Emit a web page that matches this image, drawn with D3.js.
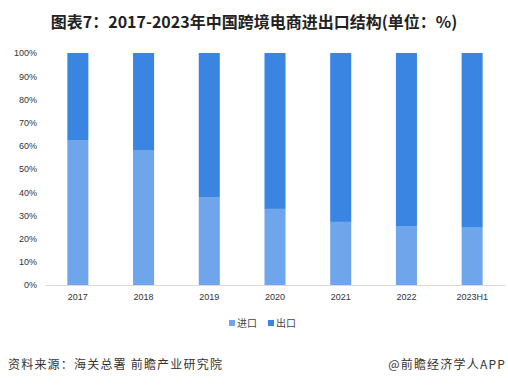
<!DOCTYPE html>
<html>
<head>
<meta charset="utf-8">
<script src="https://cdn.jsdelivr.net/npm/d3@7"></script>
<style>
  body { margin: 0; background: #fff; }
  svg { display: block; font-family: "Noto Sans CJK SC", "Liberation Sans", sans-serif; }
</style>
</head>
<body>
<svg id="chart" width="508" height="385"></svg>
<script>
// data
var years = ["2017", "2018", "2019", "2020", "2021", "2022", "2023H1"];
var importShare = [62.5, 58.2, 37.9, 32.8, 27.2, 25.4, 25.0];
var exportShare = importShare.map(function (v) { return 100 - v; });
var seriesNames = ["进口", "出口"];
var seriesColors = ["#6fa5ea", "#3a84e2"];
var yTicks = [0, 10, 20, 30, 40, 50, 60, 70, 80, 90, 100];

var svg = d3.select("#chart");
var margin = {left: 45, right: 3, top: 53, bottom: 100};
var W = 508, H = 385;

var x = d3.scaleBand().domain(years).range([margin.left, W - margin.right]).paddingInner(0.68).paddingOuter(0.34);
var y = d3.scaleLinear().domain([0, 100]).range([H - margin.bottom, margin.top]);

// title
svg.append("text")
    .attr("x", 254).attr("y", 28)
    .attr("text-anchor", "middle")
    .style("font-size", "16px").style("font-weight", "bold").style("fill", "#222")
    .text("图表7：2017-2023年中国跨境电商进出口结构(单位：%)");

// y axis labels
var yAxis = svg.append("g")
    .attr("transform", "translate(" + (margin.left) + ",0)")
    .call(d3.axisLeft(y).tickValues(yTicks).tickSize(0).tickPadding(8).tickFormat(function (d) { return d + "%"; }));
yAxis.select(".domain").remove();
yAxis.selectAll("text").style("font-size", "9px").style("fill", "#333").style("font-family", "Liberation Sans, sans-serif");

// stacked bars
var rows = years.map(function (yr, i) { return {year: yr, imp: importShare[i], exp: exportShare[i]}; });
var stack = d3.stack().keys(["imp", "exp"])(rows);

svg.append("g").selectAll("g").data(stack).enter().append("g")
    .attr("fill", function (d, i) { return seriesColors[i]; })
    .selectAll("rect").data(function (d) { return d; }).enter().append("rect")
    .attr("x", function (d) { return x(d.data.year); })
    .attr("width", x.bandwidth())
    .attr("y", function (d) { return y(d[1]); })
    .attr("height", function (d) { return y(d[0]) - y(d[1]); });

// x axis
var xAxis = svg.append("g")
    .attr("transform", "translate(0," + y(0) + ")")
    .call(d3.axisBottom(x).tickSize(0).tickPadding(9));
xAxis.select(".domain").attr("stroke", "#d9d9d9");
xAxis.selectAll("text").style("font-size", "9px").style("fill", "#333").style("font-family", "Liberation Sans, sans-serif");

// legend
var legend = svg.append("g").attr("transform", "translate(229,324)");
seriesNames.forEach(function (name, i) {
    var g = legend.append("g").attr("transform", "translate(" + (i * 39) + ",0)");
    g.append("rect").attr("x", 0).attr("y", -4).attr("width", 6).attr("height", 6).attr("fill", seriesColors[i]);
    g.append("text").attr("x", 8).attr("y", 3).style("font-size", "10px").style("fill", "#444").text(name);
});

// footer
svg.append("text").attr("x", 8).attr("y", 369)
    .style("font-size", "12px").style("letter-spacing", "1.2px").style("fill", "#333")
    .text("资料来源：海关总署 前瞻产业研究院");
svg.append("text").attr("x", 506).attr("y", 369).attr("text-anchor", "end")
    .style("font-size", "12px").style("letter-spacing", "1.2px").style("fill", "#333")
    .text("@前瞻经济学人APP");
</script>
</body>
</html>
